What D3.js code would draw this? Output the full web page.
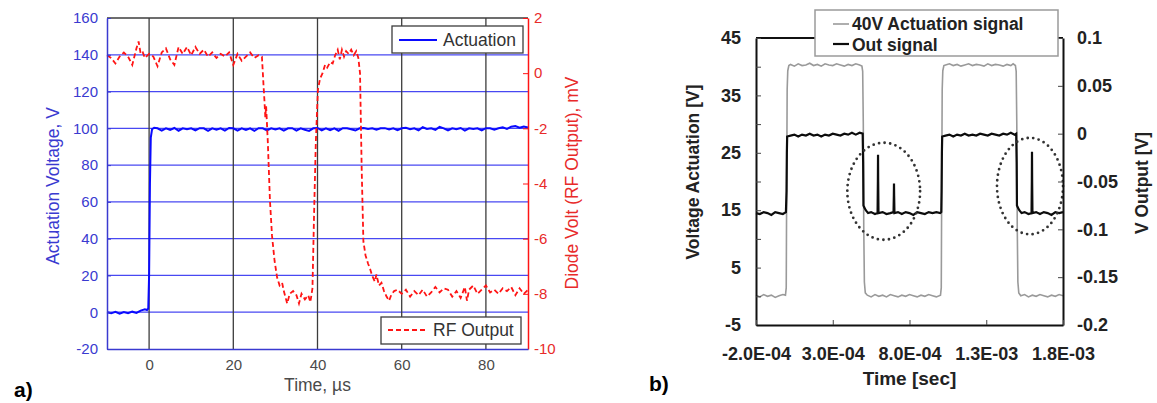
<!DOCTYPE html>
<html><head><meta charset="utf-8">
<script src="https://cdn.jsdelivr.net/npm/d3@7"></script>
<style>
html,body{margin:0;padding:0;background:#fff;}
svg{display:block;font-family:"Liberation Sans",Arial,sans-serif;}
</style></head><body>
<svg id="chart" width="1157" height="403"></svg>
<script>
// ================= Panel a data =================
const aLeftTicks = [-20, 0, 20, 40, 60, 80, 100, 120, 140, 160];
const aRightTicks = [-10, -8, -6, -4, -2, 0, 2];
const aTimeTicks = [0, 20, 40, 60, 80];

// Actuation voltage (V) vs time (us)
const aActTime = [-10,-9,-8,-7,-6,-5,-4,-3,-2,-1,-0.5,-0.2,0,0.2,0.4,0.7,1.2,
  2,3,4,5,6,7,8,9,10,11,12,13,14,15,16,17,18,19,20,21,22,23,24,25,26,27,28,29,30,
  31,32,33,34,35,36,37,38,39,40,41,42,43,44,45,46,47,48,49,50,51,52,53,54,55,56,57,58,59,60,
  61,62,63,64,65,66,67,68,69,70,71,72,73,74,75,76,77,78,79,80,81,82,83,84,85,86,87,88,89,90];
const aActVolt = [0,-0.6,0.2,-0.8,0.1,-0.5,0.3,-0.4,0.9,1.6,1.2,2.0,20,70,95,99.5,100.3,
  100,98.8,100,99.2,100.2,98.7,100,99.5,100,98.9,100.1,100,98.6,100,99.3,100,98.8,100.2,100,98.7,100,99.1,100,98.6,100.1,100,98.9,100,99.4,
  100,98.7,100,100.1,98.8,100,99.2,98.6,100,100.2,98.9,100,99,100,98.7,100.1,100,99.5,98.8,100,100.2,99.6,100,99.2,100,100.1,99.4,100,99,100,
  100.3,99.5,100,98.9,100.6,99.7,100,99.2,100.8,100,98.9,100,99.5,100.2,98.8,100,99.6,100,98.9,100.1,100,99.3,100,100.6,99.7,100.9,101.2,100.4,101,100.5];

// RF output (mV) vs time (us)
const aRfTime = [-10,-9,-8,-7,-6,-5,-4,-3,-2.5,-2,-1.5,-1,0,1,2,3,4,5,6,7,8,9,10,11,12,13,14,15,16,17,18,19,20,21,22,23,24,25,26,26.8,
  27.2,27.4,27.6,27.8,28.2,28.7,29.2,29.8,30.4,31,31.6,32,32.8,33.4,34.2,35,35.6,36.2,37,37.8,38.3,38.8,39.2,39.6,40.1,
  40.6,41.2,41.8,42.3,43,43.6,44.2,44.8,45.3,45.8,46.3,46.8,47.4,48,48.6,49.2,49.7,50.1,50.5,50.9,51.4,52,52.5,53,53.6,54,54.6,
  55.2,55.8,56.4,57,57.5,58.2,59,60,61,62,63,64,65,66,67,68,69,70,71,72,73,74,75,75.5,76,77,78,79,80,81,82,83,84,85,86,87,88,89,90];
const aRfMv = [0.65,0.55,0.35,0.6,0.75,0.6,0.3,0.9,1.15,0.7,0.75,0.55,0.7,0.6,0.25,0.75,0.9,0.5,0.3,0.95,0.7,0.95,0.65,0.95,0.7,0.85,0.6,0.75,0.55,0.7,0.6,0.75,0.3,0.7,0.45,0.6,0.75,0.55,0.65,0.6,
  -0.5,-1.0,-1.6,-1.2,-2.5,-4.6,-5.9,-6.8,-7.4,-7.7,-7.6,-7.9,-8.35,-8.0,-7.9,-8.05,-8.35,-8.0,-8.2,-8.05,-8.3,-7.8,-5.0,-2.5,-0.6,
  -0.2,0.0,0.3,0.2,0.4,0.35,0.65,0.85,0.5,0.85,0.6,0.8,0.7,0.85,0.65,0.8,0.55,0.0,-3.5,-6.1,-6.6,-6.9,-7.1,-7.35,-7.55,-7.3,-7.7,
  -7.6,-7.9,-8.1,-8.25,-8.05,-7.9,-7.85,-8.0,-7.85,-8.1,-7.9,-8.05,-7.85,-8.1,-7.95,-7.75,-7.95,-7.8,-7.85,-8.1,-7.9,-8.15,-7.75,-8.25,-7.85,-7.7,-8.0,-7.85,-7.7,-7.95,-7.85,-8.0,-7.8,-7.9,-7.75,-8.05,-7.8,-8.0,-7.85];

// ================= Panel b data =================
const bLeftTicks = [-5, 0, 5, 10, 15, 20, 25, 30, 35, 40, 45];
const bLeftLabels = [-5, 5, 15, 25, 35, 45];
const bRightTicks = [-0.2, -0.15, -0.1, -0.05, 0, 0.05, 0.1];
const bRightLabels = ["-0.2", "-0.15", "-0.1", "-0.05", "0", "0.05", "0.1"];
const bTimeTicksUs = [-200, 300, 800, 1300, 1800];
const bTimeLabels = ["-2.0E-04", "3.0E-04", "8.0E-04", "1.3E-03", "1.8E-03"];

// 40V actuation signal: [time (us), volts]
const bActuation = [
 [-200,0.2],[-175,-0.1],[-150,0.3],[-125,0.0],[-100,0.2],[-75,-0.2],[-50,0.1],[-25,0.3],[-8,0.2],
 [-3,1.5],[0,20],[3,36],[7,39.3],[14,40.2],
 [25,40.4],[50,40.1],[75,40.5],[100,40.2],[125,40.3],[150,40.6],[175,40.2],[200,40.4],[225,40.1],[250,40.5],[275,40.3],[300,40.2],[325,40.5],[350,40.3],[375,40.1],[400,40.4],[425,40.2],[450,40.5],[475,40.3],[490,40.1],
 [495,39.2],[499,30],[502,12],[506,2.5],[512,0.6],
 [525,0.2],[550,-0.1],[575,0.3],[600,0.0],[625,0.2],[650,-0.1],[675,0.3],[700,0.1],[725,-0.1],[750,0.2],[775,0.0],[800,0.3],[825,0.1],[850,-0.1],[875,0.2],[900,0.0],[925,0.3],[950,0.1],[975,-0.1],[1002,0.2],
 [1007,1.5],[1010,20],[1013,36],[1017,39.3],[1024,40.2],
 [1035,40.3],[1060,40.5],[1085,40.2],[1110,40.4],[1135,40.1],[1160,40.3],[1185,40.5],[1210,40.2],[1235,40.4],[1260,40.3],[1285,40.1],[1310,40.5],[1335,40.2],[1360,40.4],[1385,40.3],[1410,40.1],[1435,40.4],[1460,40.2],[1475,40.5],[1490,40.2],
 [1495,39.2],[1499,30],[1502,12],[1506,2.5],[1512,0.6],
 [1525,0.1],[1550,0.3],[1575,-0.1],[1600,0.2],[1625,0.0],[1650,0.3],[1675,0.1],[1700,-0.1],[1725,0.2],[1750,0.0],[1775,0.3],[1800,0.1]
];

// Out signal: [time (us), volts]
const bOut = [
 [-200,-0.083],[-175,-0.084],[-150,-0.082],[-125,-0.083],[-100,-0.085],[-75,-0.082],[-50,-0.083],[-25,-0.084],[-5,-0.082],
 [-1,-0.06],[1,-0.02],[3,-0.003],
 [25,-0.002],[50,-0.001],[75,-0.003],[100,-0.001],[125,-0.002],[150,0.0],[175,-0.002],[200,-0.001],[225,-0.003],[250,-0.001],[275,-0.002],[300,0.0],[325,-0.001],[350,-0.002],[375,0.0],[400,-0.001],[425,0.001],[450,-0.001],[475,0.001],[495,0.0],
 [498,-0.03],[500,-0.075],[505,-0.077],[515,-0.08],[530,-0.083],
 [550,-0.082],[575,-0.084],[592,-0.083],[594,-0.05],[595,-0.022],[596,-0.05],[598,-0.083],[625,-0.082],[650,-0.084],[675,-0.083],[696,-0.082],[698,-0.065],[699,-0.052],[700,-0.065],[702,-0.083],
 [725,-0.082],[750,-0.084],[775,-0.082],[800,-0.083],[825,-0.085],[850,-0.082],[875,-0.083],[900,-0.084],[925,-0.082],[950,-0.083],[975,-0.082],[1000,-0.083],[1007,-0.082],
 [1009,-0.06],[1011,-0.02],[1013,-0.003],
 [1035,-0.002],[1060,-0.001],[1085,-0.003],[1110,-0.001],[1135,-0.002],[1160,0.0],[1185,-0.002],[1210,-0.001],[1235,-0.002],[1260,0.0],[1285,-0.001],[1310,-0.002],[1335,0.0],[1360,-0.001],[1385,-0.002],[1410,0.0],[1435,-0.001],[1460,0.001],[1485,-0.001],[1495,0.0],
 [1498,-0.03],[1500,-0.075],[1505,-0.077],[1515,-0.08],[1530,-0.083],
 [1550,-0.082],[1575,-0.084],[1595,-0.083],[1597,-0.05],[1598,-0.019],[1599,-0.05],[1601,-0.083],[1625,-0.082],[1650,-0.084],[1675,-0.082],[1700,-0.083],[1725,-0.085],[1750,-0.082],[1775,-0.083],[1800,-0.082]
];

// Dotted highlight ellipses (data units: time us, left-axis volts)
const bHighlightTime = [632, 1585];
const bHighlightVolt = [18.3, 19.2];
const bHighlightHalfTime = [237, 215];
const bHighlightHalfVolt = [8.45, 8.4];

// ================= Drawing =================
const svg = d3.select("#chart");
const BLUE_TXT = "#3a3ad0", BLUE_GRID = "#4848f2", BLUE_LINE = "#0a0aff";
const RED_TXT = "#e82a2a", RED_LINE = "#ff1414";

// ---------- Panel a ----------
const aB = {l:107, r:528, t:18, b:349};
const ax = d3.scaleLinear().domain([-10, 90]).range([aB.l, aB.r]);
const ayL = d3.scaleLinear().domain([-20, 160]).range([aB.b, aB.t]);
const ayR = d3.scaleLinear().domain([-10, 2]).range([aB.b, aB.t]);
const gA = svg.append("g");

gA.selectAll("line.hg").data(aLeftTicks.filter(v => v > -20 && v < 160)).join("line")
  .attr("x1", aB.l).attr("x2", aB.r).attr("y1", d => ayL(d)).attr("y2", d => ayL(d))
  .attr("stroke", BLUE_GRID).attr("stroke-width", 1.3);
gA.selectAll("line.vg").data(aTimeTicks).join("line")
  .attr("x1", d => ax(d)).attr("x2", d => ax(d)).attr("y1", aB.t).attr("y2", aB.b)
  .attr("stroke", "#3c3c3c").attr("stroke-width", 1.3);
gA.append("line").attr("x1", aB.l).attr("x2", aB.r).attr("y1", aB.t).attr("y2", aB.t)
  .attr("stroke", "#3c3c3c").attr("stroke-width", 1.3);

const aActLine = d3.line().x((d, i) => ax(aActTime[i])).y(d => ayL(d));
const aRfLine = d3.line().x((d, i) => ax(aRfTime[i])).y(d => ayR(d));
gA.append("path").attr("d", aActLine(aActVolt)).attr("fill", "none")
  .attr("stroke", BLUE_LINE).attr("stroke-width", 2);
gA.append("path").attr("d", aRfLine(aRfMv)).attr("fill", "none")
  .attr("stroke", RED_LINE).attr("stroke-width", 1.8).attr("stroke-dasharray", "5,3");

const aLeft = gA.append("g").attr("transform", `translate(${aB.l},0)`)
  .call(d3.axisLeft(ayL).tickValues(aLeftTicks).tickSize(-4).tickSizeOuter(0).tickPadding(9).tickFormat(d => String(d)));
aLeft.select(".domain").attr("stroke", BLUE_TXT).attr("stroke-width", 1.5);
aLeft.selectAll(".tick line").attr("stroke", BLUE_TXT);
aLeft.selectAll("text").attr("fill", BLUE_TXT).style("font-size", "15px").style("font-family", '"Liberation Sans",Arial,sans-serif');

const aRight = gA.append("g").attr("transform", `translate(${aB.r},0)`)
  .call(d3.axisRight(ayR).tickValues(aRightTicks).tickSize(-5).tickSizeOuter(0).tickPadding(6).tickFormat(d => String(d)));
aRight.select(".domain").attr("stroke", RED_LINE).attr("stroke-width", 1.5);
aRight.selectAll(".tick line").attr("stroke", RED_LINE);
aRight.selectAll("text").attr("fill", RED_TXT).style("font-size", "15px").style("font-family", '"Liberation Sans",Arial,sans-serif');

const aBottom = gA.append("g").attr("transform", `translate(0,${aB.b})`)
  .call(d3.axisBottom(ax).tickValues(aTimeTicks).tickSize(0).tickSizeOuter(0).tickPadding(10).tickFormat(d => String(d)));
aBottom.select(".domain").attr("stroke", BLUE_TXT).attr("stroke-width", 1.5);
aBottom.selectAll("text").attr("fill", "#4a4a4a").style("font-size", "15px").style("font-family", '"Liberation Sans",Arial,sans-serif');

gA.append("text").attr("transform", "translate(59,186) rotate(-90)").attr("text-anchor", "middle")
  .attr("fill", BLUE_TXT).style("font-size", "17.5px").text("Actuation Voltage, V");
gA.append("text").attr("transform", "translate(578,183) rotate(-90)").attr("text-anchor", "middle")
  .attr("fill", RED_TXT).style("font-size", "17.5px").text("Diode Volt (RF Output), mV");
gA.append("text").attr("x", (aB.l + aB.r) / 2).attr("y", 391).attr("text-anchor", "middle")
  .attr("fill", "#4a4a4a").style("font-size", "17.5px").text("Time, µs");

// legends a
const legA1 = gA.append("g");
legA1.append("rect").attr("x", 392).attr("y", 26).attr("width", 131).attr("height", 27)
  .attr("fill", "#fff").attr("stroke", "#3c3c3c").attr("stroke-width", 1.3);
legA1.append("line").attr("x1", 399).attr("x2", 437).attr("y1", 40).attr("y2", 40)
  .attr("stroke", BLUE_LINE).attr("stroke-width", 2);
legA1.append("text").attr("x", 443).attr("y", 46).attr("fill", "#333").style("font-size", "17.5px").text("Actuation");

const legA2 = gA.append("g");
legA2.append("rect").attr("x", 381).attr("y", 317).attr("width", 140).attr("height", 27)
  .attr("fill", "#fff").attr("stroke", "#3c3c3c").attr("stroke-width", 1.3);
legA2.append("line").attr("x1", 388).attr("x2", 428).attr("y1", 330).attr("y2", 330)
  .attr("stroke", RED_LINE).attr("stroke-width", 1.8).attr("stroke-dasharray", "5,3");
legA2.append("text").attr("x", 433).attr("y", 336).attr("fill", "#333").style("font-size", "17.5px").text("RF Output");

svg.append("text").attr("x", 14).attr("y", 397).attr("fill", "#000").style("font-size", "21px")
  .style("font-weight", "bold").text("a)");

// ---------- Panel b ----------
const bB = {l:756, r:1063, t:38, b:325};
const bx = d3.scaleLinear().domain([-200, 1800]).range([bB.l, bB.r]);
const byL = d3.scaleLinear().domain([-5, 45]).range([bB.b, bB.t]);
const byR = d3.scaleLinear().domain([-0.2, 0.1]).range([bB.b, bB.t]);
const gB = svg.append("g");
const BF = '"Liberation Sans",Arial,sans-serif';

gB.append("path").attr("d", d3.line().x(d => bx(d[0])).y(d => byL(d[1]))(bActuation))
  .attr("fill", "none").attr("stroke", "#9a9a9a").attr("stroke-width", 1.6);
gB.append("path").attr("d", d3.line().x(d => bx(d[0])).y(d => byR(d[1]))(bOut))
  .attr("fill", "none").attr("stroke", "#0c0c0c").attr("stroke-width", 2.2);

gB.selectAll("ellipse").data(bHighlightTime).join("ellipse")
  .attr("cx", d => bx(d)).attr("cy", (d, i) => byL(bHighlightVolt[i]))
  .attr("rx", (d, i) => bx(d + bHighlightHalfTime[i]) - bx(d))
  .attr("ry", (d, i) => byL(bHighlightVolt[i] - bHighlightHalfVolt[i]) - byL(bHighlightVolt[i]))
  .attr("fill", "none").attr("stroke", "#333").attr("stroke-width", 2.8)
  .attr("stroke-dasharray", "0 5.6").attr("stroke-linecap", "round");

gB.append("line").attr("x1", bB.l).attr("x2", bB.r).attr("y1", bB.t).attr("y2", bB.t)
  .attr("stroke", "#111").attr("stroke-width", 2);

const bLeft = gB.append("g").attr("transform", `translate(${bB.l},0)`)
  .call(d3.axisLeft(byL).tickValues(bLeftTicks).tickSize(-5).tickSizeOuter(0).tickPadding(15)
    .tickFormat(d => bLeftLabels.includes(d) ? String(d) : ""));
bLeft.select(".domain").attr("stroke", "#111").attr("stroke-width", 2);
bLeft.selectAll(".tick line").attr("stroke", "#444");
bLeft.selectAll("text").attr("fill", "#222").style("font-size", "18px").style("font-weight", "bold").style("font-family", BF);

const bRight = gB.append("g").attr("transform", `translate(${bB.r},0)`)
  .call(d3.axisRight(byR).tickValues(bRightTicks).tickSize(-5).tickSizeOuter(0).tickPadding(14)
    .tickFormat((d, i) => bRightLabels[i]));
bRight.select(".domain").attr("stroke", "#111").attr("stroke-width", 2);
bRight.selectAll(".tick line").attr("stroke", "#444");
bRight.selectAll("text").attr("fill", "#222").style("font-size", "18px").style("font-weight", "bold").style("font-family", BF);

const bBottom = gB.append("g").attr("transform", `translate(0,${bB.b})`)
  .call(d3.axisBottom(bx).tickValues(bTimeTicksUs).tickSize(-5).tickSizeOuter(0).tickPadding(22)
    .tickFormat((d, i) => bTimeLabels[i]));
bBottom.select(".domain").attr("stroke", "#111").attr("stroke-width", 2);
bBottom.selectAll(".tick line").attr("stroke", "#444");
bBottom.selectAll("text").attr("fill", "#222").style("font-size", "18px").style("font-weight", "bold").style("font-family", BF);

gB.append("text").attr("transform", "translate(699,172) rotate(-90)").attr("text-anchor", "middle")
  .attr("fill", "#222").style("font-size", "17.5px").style("font-weight", "bold").text("Voltage Actuation [V]");
gB.append("text").attr("transform", "translate(1148,183) rotate(-90)").attr("text-anchor", "middle")
  .attr("fill", "#222").style("font-size", "17.5px").style("font-weight", "bold").text("V Output [V]");
gB.append("text").attr("x", (bB.l + bB.r) / 2).attr("y", 385).attr("text-anchor", "middle")
  .attr("fill", "#222").style("font-size", "19px").style("font-weight", "bold").text("Time [sec]");

const legB = gB.append("g");
legB.append("rect").attr("x", 815).attr("y", 10).attr("width", 243).attr("height", 46)
  .attr("fill", "#fff").attr("stroke", "#9a9a9a").attr("stroke-width", 1.5);
legB.append("line").attr("x1", 833).attr("x2", 849).attr("y1", 24).attr("y2", 24)
  .attr("stroke", "#9a9a9a").attr("stroke-width", 1.6);
legB.append("text").attr("x", 852).attr("y", 30).attr("fill", "#222").style("font-size", "17.5px")
  .style("font-weight", "bold").text("40V Actuation signal");
legB.append("line").attr("x1", 833).attr("x2", 849).attr("y1", 44).attr("y2", 44)
  .attr("stroke", "#0c0c0c").attr("stroke-width", 2.2);
legB.append("text").attr("x", 852).attr("y", 50.5).attr("fill", "#222").style("font-size", "17.5px")
  .style("font-weight", "bold").text("Out signal");

svg.append("text").attr("x", 649).attr("y", 391).attr("fill", "#000").style("font-size", "21px")
  .style("font-weight", "bold").text("b)");
</script>
</body></html>
